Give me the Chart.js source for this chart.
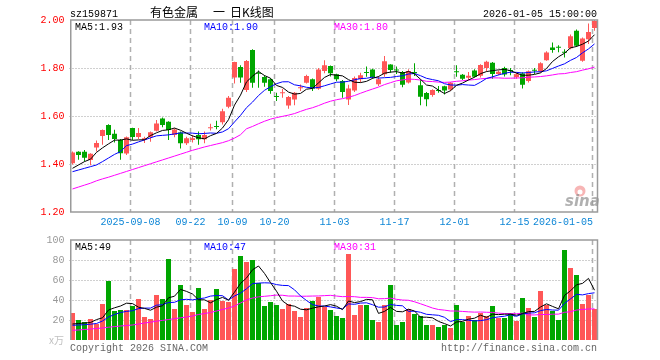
<!DOCTYPE html>
<html><head><meta charset="utf-8">
<script src="https://cdn.jsdelivr.net/npm/chart.js@4.4.1/dist/chart.umd.min.js"></script>
<style>
html,body{margin:0;padding:0;background:#fff;}
#wrap{position:relative;width:660px;height:360px;background:#fff;}
canvas{position:absolute;left:0;top:0;width:660px;height:360px;}
</style></head><body>
<div id="wrap"><canvas id="price" width="660" height="360"></canvas><canvas id="vol" width="660" height="360"></canvas></div>
<script>
const dates = [
'2025-08-25','2025-08-26','2025-08-27','2025-08-28','2025-08-29',
'2025-09-01','2025-09-02','2025-09-03','2025-09-04','2025-09-05','2025-09-08','2025-09-09','2025-09-10','2025-09-11','2025-09-12',
'2025-09-15','2025-09-16','2025-09-17','2025-09-18','2025-09-19','2025-09-22','2025-09-23','2025-09-24','2025-09-25','2025-09-26','2025-09-29','2025-09-30',
'2025-10-09','2025-10-10','2025-10-13','2025-10-14','2025-10-15','2025-10-16','2025-10-17','2025-10-20','2025-10-21','2025-10-22','2025-10-23','2025-10-24',
'2025-10-27','2025-10-28','2025-10-29','2025-10-30','2025-10-31',
'2025-11-03','2025-11-04','2025-11-05','2025-11-06','2025-11-07','2025-11-10','2025-11-11','2025-11-12','2025-11-13','2025-11-14',
'2025-11-17','2025-11-18','2025-11-19','2025-11-20','2025-11-21','2025-11-24','2025-11-25','2025-11-26','2025-11-27','2025-11-28',
'2025-12-01','2025-12-02','2025-12-03','2025-12-04','2025-12-05','2025-12-08','2025-12-09','2025-12-10','2025-12-11','2025-12-12',
'2025-12-15','2025-12-16','2025-12-17','2025-12-18','2025-12-19','2025-12-22','2025-12-23','2025-12-24','2025-12-25','2025-12-26',
'2025-12-29','2025-12-30','2025-12-31','2026-01-05'];

const opens = [1.403,1.451,1.451,1.417,1.469,1.517,1.5625,1.526,1.50,1.444,
1.55,1.512,1.50,1.514,1.539,1.59,1.576,1.521,1.531,1.486,
1.50,1.521,1.503,1.549,1.556,1.574,1.639,1.76,1.804,1.708,
1.875,1.78,1.7625,1.753,1.681,1.695,1.644,1.669,1.716,1.739,
1.753,1.714,1.7875,1.808,1.7735,1.746,1.669,1.706,1.753,1.782,
1.794,1.732,1.774,1.815,1.793,1.783,1.74,1.783,1.728,1.696,
1.687,1.706,1.724,1.71,1.785,1.772,1.759,1.79,1.768,1.80,
1.822,1.775,1.80,1.79,1.762,1.777,1.746,1.79,1.786,1.832,
1.885,1.886,1.866,1.882,1.955,1.83,1.92,1.967];
const highs = [1.452,1.453,1.458,1.445,1.498,1.544,1.566,1.543,1.504,1.515,
1.551,1.55,1.514,1.535,1.583,1.594,1.578,1.549,1.535,1.514,
1.52,1.535,1.535,1.568,1.58,1.63,1.683,1.826,1.811,1.833,
1.878,1.79,1.77,1.757,1.697,1.714,1.683,1.70,1.731,1.772,
1.756,1.80,1.832,1.81,1.776,1.75,1.73,1.765,1.78,1.806,
1.797,1.767,1.85,1.816,1.806,1.787,1.795,1.82,1.753,1.70,
1.711,1.725,1.726,1.742,1.811,1.775,1.783,1.795,1.816,1.83,
1.825,1.79,1.805,1.80,1.78,1.782,1.79,1.80,1.824,1.87,
1.906,1.895,1.878,1.94,1.96,1.927,1.985,2.003];
const lows = [1.398,1.418,1.41,1.395,1.452,1.48,1.50,1.49,1.418,1.438,
1.50,1.504,1.487,1.493,1.535,1.553,1.50,1.511,1.465,1.479,
1.49,1.48,1.486,1.54,1.545,1.565,1.632,1.735,1.739,1.70,
1.718,1.718,1.722,1.693,1.662,1.676,1.63,1.645,1.704,1.735,
1.704,1.709,1.778,1.765,1.745,1.676,1.646,1.70,1.74,1.764,
1.755,1.725,1.764,1.78,1.775,1.72,1.735,1.767,1.645,1.641,
1.68,1.697,1.69,1.704,1.764,1.75,1.75,1.76,1.76,1.785,
1.755,1.77,1.765,1.77,1.755,1.715,1.74,1.775,1.78,1.83,
1.864,1.866,1.844,1.878,1.888,1.826,1.90,1.955];
const closes = [1.448,1.438,1.426,1.443,1.487,1.542,1.521,1.504,1.445,1.511,
1.513,1.529,1.507,1.532,1.569,1.5625,1.542,1.544,1.486,1.507,
1.507,1.503,1.521,1.552,1.554,1.62,1.676,1.825,1.76,1.829,
1.739,1.776,1.739,1.704,1.679,1.697,1.679,1.697,1.718,1.767,
1.714,1.794,1.811,1.778,1.753,1.70,1.715,1.758,1.77,1.779,
1.762,1.753,1.828,1.792,1.79,1.73,1.7875,1.778,1.68,1.67,
1.708,1.704,1.706,1.739,1.782,1.755,1.768,1.764,1.8125,1.826,
1.775,1.784,1.773,1.787,1.774,1.73,1.786,1.789,1.82,1.865,
1.875,1.884,1.864,1.932,1.893,1.923,1.95,1.996];
const volumes = [27,20,18,21,16,36,59,29,30,30,
34,41,23,21,45,41,81,31,55,35,
28,52,31,40,51,39,38,71,84,78,
80,57,34,38,35,31,36,29,23,32,
39,43,33,30,24,22,86,25,35,35,
20,18,35,55,15,18,31,26,24,15,
15,13,15,12,35,18,24,20,27,24,
34,22,22,27,19,42,32,23,49,35,
29,20,90,72,65,36,45,31];

// moving-average values before a full window exists
const priceMA5Lead = [1.382,1.396,1.41,1.42];
const priceMA10Lead = [1.368,1.375,1.382,1.389,1.396,1.41,1.425,1.44,1.452];
const priceMA30Lead = [1.296,1.304,1.312,1.32,1.33,1.338,1.345,1.353,1.361,1.369,1.377,1.385,1.393,1.401,1.409,1.417,1.425,1.433,1.441,1.449,1.457,1.464,1.471,1.477,1.483,1.489,1.497,1.508,1.522];
const volMA5Lead = [16,16.5,17,17.5];
const volMA10Lead = [14.7,15,15.3,15.8,16.5,19,23,25.5,27.5];
const volMA30Lead = [9.7,10,10.5,11,11.5,12,12.8,13.4,14,14.5,15,16,17,17.8,18.8,19.6,20.5,21.3,22.2,23,24,25.5,26.5,27.5,29,30.5,32,34,37];

const priceTicks = [1.2,1.4,1.6,1.8,2.0];
const volTicks = [0,20,40,60,80,100];
const axisLabelIdx = [10,20,27,34,44,54,64,74,87];
const axisLabelText = ['2025-09-08','09-22','10-09','10-20','11-03','11-17','12-01','12-15','2026-01-05'];
const titleParts = ['有色金属','一','日K线图'];
const priceLegend = ['MA5:1.93','MA10:1.90','MA30:1.80'];
const volLegend = ['MA5:49','MA10:47','MA30:31'];

const RED = '#ff5757', GREEN = '#00a600';
const MONO = '10px "Liberation Mono", "DejaVu Sans Mono", monospace';

function movingAvg(src, n, lead){
  return src.map((v,i)=> i < n-1 ? lead[i] : src.slice(i-n+1,i+1).reduce((a,b)=>a+b,0)/n);
}
const colors = closes.map((c,i)=> c >= opens[i] ? RED : GREEN);
const bodies = opens.map((o,i)=>[o, closes[i]]);
const wicks = lows.map((l,i)=>[l, highs[i]]);

function lineDs(data, color){
  return {type:'line', data, borderColor:color, borderWidth:1, pointRadius:0, tension:0, order:0, fill:false};
}

function drawGrid(chart, hVals){
  const ctx = chart.ctx, a = chart.chartArea, xs = chart.scales.x, ys = chart.scales.y;
  ctx.save();
  ctx.strokeStyle = '#a0a0a0'; ctx.lineWidth = 1; ctx.setLineDash([1,2]);
  hVals.forEach(v=>{
    const y = Math.round(ys.getPixelForValue(v)) + 0.5;
    ctx.beginPath(); ctx.moveTo(a.left, y); ctx.lineTo(a.right, y); ctx.stroke();
  });
  ctx.strokeStyle = '#b0b0b0'; ctx.lineWidth = 1.5; ctx.setLineDash([5,4]);
  axisLabelIdx.forEach(i=>{
    const x = xs.getPixelForValue(i) - 2;
    ctx.beginPath(); ctx.moveTo(x, a.top); ctx.lineTo(x, a.bottom); ctx.stroke();
  });
  ctx.restore();
}

const pricePlugin = {
  id:'priceDeco',
  beforeDatasetsDraw(chart){ drawGrid(chart, [1.4,1.6,1.8]); },
  afterDatasetsDraw(chart){
    const ctx = chart.ctx, a = chart.chartArea, xs = chart.scales.x;
    ctx.save();
    ctx.strokeStyle = '#9a9a9a'; ctx.lineWidth = 1.5; ctx.setLineDash([]);
    ctx.strokeRect(70.75, a.top, a.right - 70.75, a.bottom - a.top);
    ctx.font = MONO; ctx.textBaseline = 'alphabetic';
    ctx.fillStyle = '#000'; ctx.textAlign = 'left';
    ctx.fillText('sz159871', 70, 17);
    ctx.textAlign = 'right';
    ctx.fillText('2026-01-05 15:00:00', 597, 17);
    ctx.textAlign = 'left';
    ctx.font = '12px "Noto Sans CJK SC", sans-serif';
    ctx.fillText(titleParts[0], 150, 17);
    ctx.fillText(titleParts[1], 213, 17);
    ctx.fillText(titleParts[2], 230, 17);
    ctx.font = MONO; ctx.textAlign = 'left';
    ctx.fillStyle = '#000'; ctx.fillText(priceLegend[0], 75, 30);
    ctx.fillStyle = '#0000ff'; ctx.fillText(priceLegend[1], 204, 30);
    ctx.fillStyle = '#ff00ff'; ctx.fillText(priceLegend[2], 334, 30);
    ctx.fillStyle = '#0e86d6';
    axisLabelIdx.forEach((idx,k)=>{
      const x = xs.getPixelForValue(idx) - 2;
      if (k === axisLabelIdx.length - 1){ ctx.textAlign = 'right'; ctx.fillText(axisLabelText[k], x + 0.5, 225); }
      else { ctx.textAlign = 'center'; ctx.fillText(axisLabelText[k], x, 225); }
    });
    ctx.fillStyle = 'rgba(240,120,120,0.55)';
    ctx.beginPath(); ctx.arc(580, 191, 5.5, 0, Math.PI*2); ctx.fill();
    ctx.fillStyle = '#fff';
    ctx.beginPath(); ctx.arc(580, 192, 2.5, 0, Math.PI*2); ctx.fill();
    ctx.fillStyle = 'rgba(150,150,150,0.75)';
    ctx.font = 'italic bold 15px "DejaVu Sans", sans-serif'; ctx.textAlign = 'left';
    ctx.fillText('sina', 565, 206);
    ctx.restore();
  }
};

const volPlugin = {
  id:'volDeco',
  beforeDatasetsDraw(chart){ drawGrid(chart, [20,40,60,80]); },
  afterDatasetsDraw(chart){
    const ctx = chart.ctx, a = chart.chartArea;
    ctx.save();
    ctx.strokeStyle = '#9a9a9a'; ctx.lineWidth = 1.5; ctx.setLineDash([]);
    ctx.beginPath();
    ctx.moveTo(70.75, a.bottom); ctx.lineTo(70.75, a.top); ctx.lineTo(a.right, a.top); ctx.lineTo(a.right, a.bottom);
    ctx.stroke();
    ctx.font = MONO; ctx.textAlign = 'left'; ctx.textBaseline = 'alphabetic';
    ctx.fillStyle = '#000'; ctx.fillText(volLegend[0], 75, 250);
    ctx.fillStyle = '#0000ff'; ctx.fillText(volLegend[1], 204, 250);
    ctx.fillStyle = '#ff00ff'; ctx.fillText(volLegend[2], 334, 250);
    ctx.fillStyle = '#666'; ctx.fillText('Copyright 2026 SINA.COM', 70, 351);
    ctx.textAlign = 'right'; ctx.fillText('http://finance.sina.com.cn', 597, 351);
    ctx.fillStyle = '#c0c0c0'; ctx.font = '10px "Noto Sans CJK SC", sans-serif'; ctx.textAlign = 'left';
    ctx.fillText('x万', 49, 344);
    ctx.restore();
  }
};

const yTickFont = {family:'"Liberation Mono", "DejaVu Sans Mono", monospace', size:10};

new Chart(document.getElementById('price'), {
  type:'bar',
  data:{
    labels: dates,
    datasets:[
      lineDs(movingAvg(closes,5,priceMA5Lead), '#000000'),
      lineDs(movingAvg(closes,10,priceMA10Lead), '#0000ff'),
      lineDs(movingAvg(closes,30,priceMA30Lead), '#ff00ff'),
      {type:'bar', data:wicks, backgroundColor:colors, barThickness:1, grouped:false, order:2, inflateAmount:0, borderWidth:0},
      {type:'bar', data:bodies, backgroundColor:colors, barThickness:5, grouped:false, order:1, minBarLength:1, inflateAmount:0, borderWidth:0}
    ]
  },
  options:{
    responsive:false, animation:false, events:[],
    layout:{padding:{left:0, right:62.5, top:20, bottom:148}},
    plugins:{legend:{display:false}, tooltip:{enabled:false}},
    scales:{
      x:{type:'category', offset:true, display:false},
      y:{min:priceTicks[0], max:priceTicks[priceTicks.length-1],
         afterBuildTicks(s){ s.ticks = priceTicks.map(v=>({value:v})); },
         ticks:{callback:v=>Number(v).toFixed(2), color:'#ff0000', font:yTickFont, padding:5},
         grid:{display:false, drawTicks:false}, border:{display:false},
         afterFit(s){ s.width = 69.5; }}
    }
  },
  plugins:[pricePlugin]
});

new Chart(document.getElementById('vol'), {
  type:'bar',
  data:{
    labels: dates,
    datasets:[
      lineDs(movingAvg(volumes,5,volMA5Lead), '#000000'),
      lineDs(movingAvg(volumes,10,volMA10Lead), '#0000ff'),
      lineDs(movingAvg(volumes,30,volMA30Lead), '#ff00ff'),
      {type:'bar', data:volumes, backgroundColor:colors, barThickness:5, grouped:false, order:1, inflateAmount:0, borderWidth:0}
    ]
  },
  options:{
    responsive:false, animation:false, events:[],
    layout:{padding:{left:0, right:62.5, top:240, bottom:20}},
    plugins:{legend:{display:false}, tooltip:{enabled:false}},
    scales:{
      x:{type:'category', offset:true, display:false},
      y:{min:0, max:100,
         afterBuildTicks(s){ s.ticks = volTicks.map(v=>({value:v})); },
         ticks:{callback:v=> v === 0 ? '' : String(v), color:'#999999', font:yTickFont, padding:5},
         grid:{display:false, drawTicks:false}, border:{display:false},
         afterFit(s){ s.width = 69.5; }}
    }
  },
  plugins:[volPlugin]
});
</script>
</body></html>
